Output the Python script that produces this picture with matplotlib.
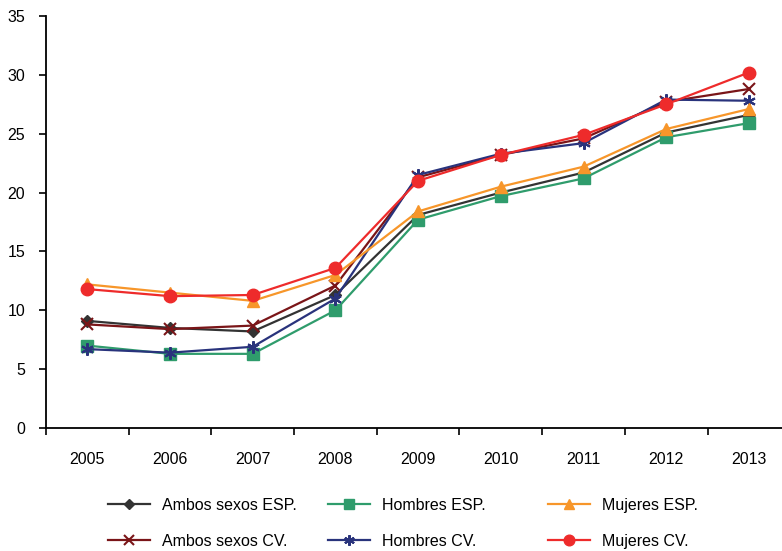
import matplotlib.pyplot as plt

plt.rcParams['font.family'] = ['Liberation Sans', 'DejaVu Sans']

years = ['2005', '2006', '2007', '2008', '2009', '2010', '2011', '2012', '2013']

ambos_esp = [9.1, 8.5, 8.2, 11.3, 18.1, 20.0, 21.7, 25.1, 26.6]
hombres_esp = [7.0, 6.3, 6.3, 10.0, 17.7, 19.7, 21.2, 24.7, 25.9]
mujeres_esp = [12.2, 11.5, 10.8, 13.0, 18.4, 20.5, 22.2, 25.4, 27.1]
ambos_cv = [8.8, 8.4, 8.7, 12.1, 21.3, 23.2, 24.6, 27.7, 28.8]
hombres_cv = [6.7, 6.4, 6.9, 11.0, 21.5, 23.3, 24.2, 27.9, 27.8]
mujeres_cv = [11.8, 11.2, 11.3, 13.6, 21.0, 23.2, 24.9, 27.5, 30.2]

fig = plt.figure(figsize=(7.82, 5.51), dpi=100)
ax = fig.add_axes([46 / 782, 123 / 551, 736 / 782, 412 / 551])

x = list(range(len(years)))
l1, = ax.plot(x, ambos_esp, color='#333333', marker='D', markersize=6, lw=1.6, label='Ambos sexos ESP.')
l2, = ax.plot(x, ambos_cv, color='#7a1518', marker='x', markersize=9, mew=1.5, lw=1.6, label='Ambos sexos CV.')
l3, = ax.plot(x, hombres_esp, color='#2f9c6c', marker='s', markersize=8, lw=1.6, label='Hombres ESP.')
l4, = ax.plot(x, hombres_cv, color='#29337c', marker=(6, 2, 0), markersize=9, mew=1.5, lw=1.6, label='Hombres CV.')
l5, = ax.plot(x, mujeres_esp, color='#f7962a', marker='^', markersize=9, lw=1.6, label='Mujeres ESP.')
l6, = ax.plot(x, mujeres_cv, color='#ee2b2b', marker='o', markersize=9, lw=1.6, label='Mujeres CV.')

ax.set_xlim(-0.5, 8.4)
ax.set_ylim(0, 35)
ax.set_yticks(range(0, 36, 5))
ax.set_xticks([i - 0.5 for i in range(9)])
ax.set_xticklabels([])
ax.set_xticks(x, minor=True)
ax.set_xticklabels(years, minor=True)
ax.tick_params(axis='x', which='minor', length=0, pad=17, labelsize=11.5)
ax.tick_params(axis='x', which='major', length=5, width=1.2)
ax.tick_params(axis='y', length=5, width=1.2, labelsize=11.5, pad=10)

for side in ['top', 'right']:
    ax.spines[side].set_visible(False)
ax.spines['left'].set_linewidth(1.3)
ax.spines['bottom'].set_linewidth(1.3)

# three legend columns placed separately
for handles, xpos in [([l1, l2], 108), ([l3, l4], 328), ([l5, l6], 548)]:
    fig.legend(handles=handles, loc='upper left', bbox_to_anchor=(xpos / 782, 1 - 498 / 551),
               frameon=False, fontsize=11.5, handlelength=2.6, handletextpad=0.75,
               labelspacing=1.3, borderpad=0, borderaxespad=0, markerscale=0.85)

plt.savefig('out.png', dpi=100)
